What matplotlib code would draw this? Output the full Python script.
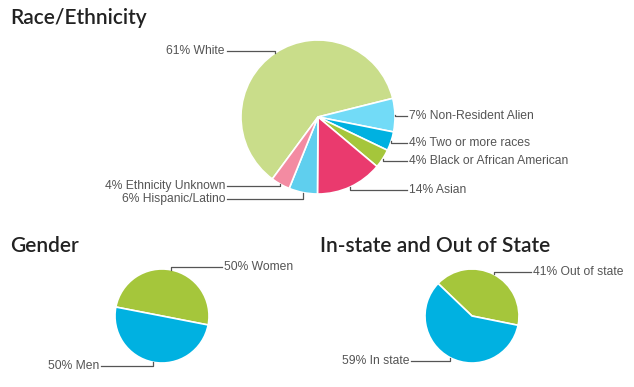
import numpy as np
import matplotlib.pyplot as plt

# race / ethnicity breakdown (percent)
race_labels = ['White', 'Non-Resident Alien', 'Two or more races',
               'Black or African American', 'Asian', 'Hispanic/Latino',
               'Ethnicity Unknown']
race_values = [61, 7, 4, 4, 14, 6, 4]
race_colors = ['#c9dd8a', '#72dbf7', '#00b1e1', '#a5c63b', '#ea3a6e',
               '#5fcfee', '#f38ba2']

gender_labels = ['Women', 'Men']
gender_values = [50, 50]
gender_colors = ['#a5c63b', '#00b1e1']

state_labels = ['Out of state', 'In state']
state_values = [41, 59]
state_colors = ['#a5c63b', '#00b1e1']

W, H = 634, 387
fig = plt.figure(figsize=(W / 100, H / 100), dpi=100)
ax = fig.add_axes([0, 0, 1, 1])

TITLE = dict(family='Lato', weight='semibold', fontsize=15, color='#222222')
LABEL = dict(family='Liberation Sans', fontsize=8.7, color='#555555')


def py(y):
    # pixel row (from top) -> data y
    return H - y


def draw_pie(values, colors, cx, cy, r, start):
    wedges, _ = ax.pie(values, colors=colors, center=(cx, py(cy)), radius=r,
                       startangle=start, counterclock=False, frame=True,
                       wedgeprops=dict(edgecolor='white', linewidth=1.2))
    return wedges


def leader(w, cx, cy, r, text, tx, ty, side):
    mid = np.deg2rad((w.theta1 + w.theta2) / 2)
    rx = cx + r * np.cos(mid)
    ry = cy - r * np.sin(mid)
    lx = tx - 2 if side == 'right' else tx + 2
    ax.plot([lx, rx, rx], [py(ty), py(ty), py(ry)], color='#555555', lw=0.9)
    ax.text(tx, py(ty), text, ha='left' if side == 'right' else 'right',
            va='center', **LABEL)


# Race/Ethnicity
cx, cy, r = 318, 117, 77
start = 14 + race_values[0] * 3.6
wedges = draw_pie(race_values, race_colors, cx, cy, r, start)
race_pos = [(225, 51, 'left'), (409, 116, 'right'), (409, 143, 'right'),
            (409, 161, 'right'), (409, 190, 'right'), (225, 199, 'left'),
            (225, 186, 'left')]
for w, lab, v, (tx, ty, side) in zip(wedges, race_labels, race_values, race_pos):
    leader(w, cx, cy, r, f'{v}% {lab}', tx, ty, side)
ax.text(10, py(24), 'Race/Ethnicity', va='baseline', **TITLE)

# Gender
cx, cy, r = 162, 316, 47
wedges = draw_pie(gender_values, gender_colors, cx, cy, r, -11 + 180)
gender_pos = [(224, 267, 'right'), (99, 366, 'left')]
for w, lab, v, (tx, ty, side) in zip(wedges, gender_labels, gender_values, gender_pos):
    leader(w, cx, cy, r, f'{v}% {lab}', tx, ty, side)
ax.text(10, py(252), 'Gender', va='baseline', **TITLE)

# In-state and Out of State
cx, cy, r = 472, 316, 47
wedges = draw_pie(state_values, state_colors, cx, cy, r, -11.4 + state_values[0] * 3.6)
state_pos = [(533, 272, 'right'), (409, 361, 'left')]
for w, lab, v, (tx, ty, side) in zip(wedges, state_labels, state_values, state_pos):
    leader(w, cx, cy, r, f'{v}% {lab}', tx, ty, side)
ax.text(320, py(252), 'In-state and Out of State', va='baseline', **TITLE)

ax.set_aspect('auto')
ax.set_xlim(0, W)
ax.set_ylim(0, H)
ax.axis('off')

fig.savefig('out.png', dpi=100, facecolor='white')
